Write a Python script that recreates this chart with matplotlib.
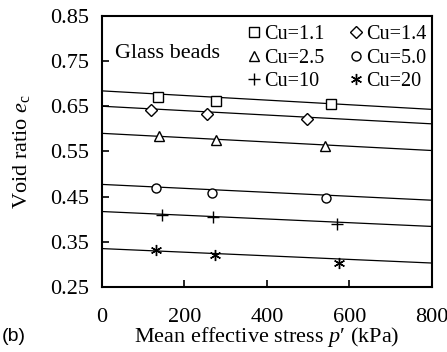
import numpy as np
import matplotlib.pyplot as plt

# =========================
# DATA
# =========================
labels = ["Cu=1.1", "Cu=1.4", "Cu=2.5", "Cu=5.0", "Cu=10", "Cu=20"]
markers = ["s", "D", "^", "o", "+", (6, 2, 0)]

p_cu11 = [137, 277, 555]
e_cu11 = [0.670, 0.662, 0.654]
p_cu14 = [119, 254, 498]
e_cu14 = [0.642, 0.633, 0.621]
p_cu25 = [139, 278, 542]
e_cu25 = [0.583, 0.575, 0.563]
p_cu50 = [131, 266, 544]
e_cu50 = [0.469, 0.459, 0.447]
p_cu10 = [145, 270, 570]
e_cu10 = [0.410, 0.404, 0.389]
p_cu20 = [131, 274, 575]
e_cu20 = [0.331, 0.320, 0.303]

# fitted lines: e at p'=0 and at p'=800
fit_start = [0.684, 0.650, 0.590, 0.477, 0.417, 0.335]
fit_end = [0.643, 0.611, 0.552, 0.442, 0.384, 0.303]
fit_p = [0, 800]

p_all = [p_cu11, p_cu14, p_cu25, p_cu50, p_cu10, p_cu20]
e_all = [e_cu11, e_cu14, e_cu25, e_cu50, e_cu10, e_cu20]

# =========================
# PLOT
# =========================
plt.rcParams["font.family"] = "Liberation Serif"
plt.rcParams["mathtext.fontset"] = "custom"
plt.rcParams["mathtext.rm"] = "Liberation Serif"
plt.rcParams["mathtext.it"] = "Liberation Serif:italic"

fig = plt.figure(figsize=(4.47, 3.52), dpi=100)
ax = fig.add_axes([0.2275, 0.1847, 0.7389, 0.7703])

handles = []
for i in range(len(labels)):
    ax.plot(fit_p, [fit_start[i], fit_end[i]], color="black", lw=0.9)
    ms = 6.5
    if markers[i] == "D":
        ms = 5.8
    if markers[i] == "+":
        ms = 9
    if markers[i] == (6, 2, 0):
        ms = 8
    h, = ax.plot(p_all[i], e_all[i], ls="none", marker=markers[i], ms=ms,
                 mfc="white", mec="black", mew=1.0, label=labels[i])
    handles.append(h)

ax.set_xlim(0, 800)
ax.set_ylim(0.25, 0.85)
ax.set_xticks([0, 200, 400, 600, 800])
ax.set_yticks([0.25, 0.35, 0.45, 0.55, 0.65, 0.75, 0.85])
ax.set_yticklabels(["0.25", "0.35", "0.45", "0.55", "0.65", "0.75", "0.85"])
ax.tick_params(direction="in", length=5, width=1.2, labelsize=16)
ax.tick_params(axis="x", pad=15)
ax.tick_params(axis="y", pad=9)
for s in ax.spines.values():
    s.set_linewidth(1.5)

ax.set_xlabel("Mean effective stress $p$\u2032 (kPa)", fontsize=16, labelpad=-1)
ax.set_ylabel("Void ratio $e_{\\rm c}$", fontsize=16, labelpad=13)

ax.text(0.04, 0.86, "Glass beads", transform=ax.transAxes, fontsize=16,
        va="center", ha="left")

order = [0, 2, 4, 1, 3, 5]
ax.legend([handles[j] for j in order], [labels[j] for j in order], ncol=2,
          frameon=False, fontsize=14.5, loc="upper right",
          bbox_to_anchor=(1.025, 1.017), handlelength=0.5, handletextpad=0.25,
          columnspacing=1.3, labelspacing=0.2, borderaxespad=0.3,
          markerscale=1.0)

fig.text(0.005, 0.03, "(b)", fontsize=14, family="Liberation Sans")

fig.savefig("out.png", dpi=100)
